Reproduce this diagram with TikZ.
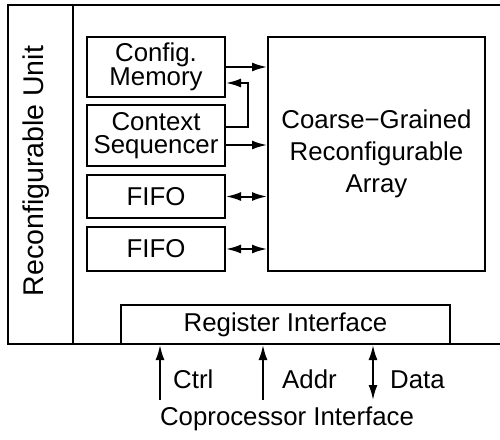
\documentclass[tikz,border=0pt]{standalone}
\usepackage{fontspec}
\setmainfont{Liberation Sans}
\usetikzlibrary{arrows.meta}
\begin{document}
\begin{tikzpicture}[x=1pt,y=-1pt,
  ln/.style={line width=2pt},
  blk/.style={draw, line width=2pt, inner sep=0pt, align=center, font=\fontsize{25.8}{23.5}\selectfont},
  arr/.style={line width=2pt, -{Latex[length=15pt,width=9pt]}},
  barr/.style={line width=2pt, {Latex[length=15pt,width=9pt]}-{Latex[length=15pt,width=9pt]}},
  lbl/.style={font=\fontsize{25.8}{29}\selectfont, inner sep=0pt}]
\useasboundingbox (0,0) rectangle (500,439);
% frame
\draw[ln] (500,5) -- (8,5) -- (8,344) -- (500,344);
\draw[ln] (73,5) -- (73,344);
\node[lbl, rotate=90, anchor=base, font=\fontsize{28.5}{30}\selectfont] (ru) at (43,171) {Reconfigurable Unit};
% blocks
\node[blk, minimum width=138pt, minimum height=60pt] (cfg) at (156,67) {Config.\\Memory};
\node[blk, minimum width=138pt, minimum height=61pt] (ctx) at (156,135.5) {Context\\Sequencer};
\node[blk, minimum width=138pt, minimum height=43pt] (f1) at (156,196.5) {FIFO};
\node[blk, minimum width=138pt, minimum height=44pt] (f2) at (156,249) {FIFO};
\node[blk, minimum width=217pt, minimum height=234pt, font=\fontsize{25.8}{32}\selectfont] (cgra) at (376.5,154) {Coarse−Grained\\Reconfigurable\\Array};
\node[blk, minimum width=329pt, minimum height=39pt] (reg) at (285.5,324.5) {Register Interface};
% connectors
\draw[arr] (cfg.east) -- (cfg.east -| cgra.west);
\coordinate (c0) at ([yshift=8.5pt]ctx.east);
\coordinate (c2) at ([yshift=-16pt]cfg.east);
\draw[arr] (c0) -- ++(22,0) |- (c2);
\coordinate (c1) at ([yshift=-9.5pt]ctx.east);
\draw[arr] (c1) -- (c1 -| cgra.west);
\draw[barr] (f1.east) -- (f1.east -| cgra.west);
\draw[barr] (f2.east) -- (f2.east -| cgra.west);
% coprocessor interface
\coordinate (ctrl) at (160,400);
\coordinate (addr) at (263,400);
\coordinate (data) at (373,400);
\draw[arr] (ctrl) -- (ctrl |- reg.south);
\draw[arr] (addr) -- (addr |- reg.south);
\draw[barr] (data) -- (data |- reg.south);
\node[lbl, anchor=base west] (lc) at (173,388) {Ctrl};
\node[lbl, anchor=base west] (la) at (282,388) {Addr};
\node[lbl, anchor=base west] (ld) at (390,388) {Data};
\node[lbl, anchor=base] (cp) at (287,425) {Coprocessor Interface};
\end{tikzpicture}
\end{document}
